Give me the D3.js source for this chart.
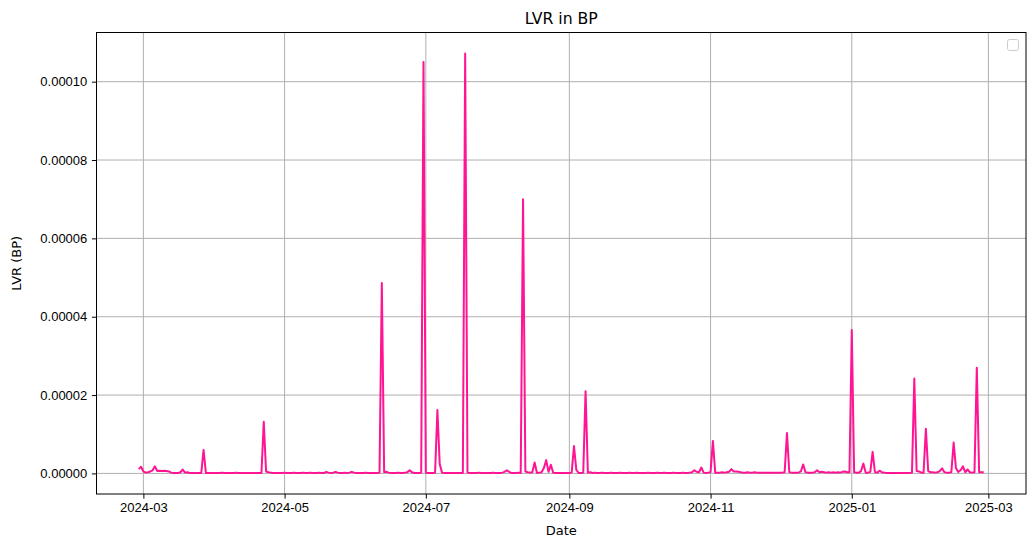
<!DOCTYPE html>
<html lang="en">
<head>
  <meta charset="UTF-8">
  <title>LVR in BP</title>
  <style>
    body { margin: 0; background: #fff; }
    svg { font-family: "DejaVu Sans", sans-serif; }
    .grid line { stroke: #b0b0b0; stroke-width: 1; }
    .axis path { display: none; }
    .axis line { stroke: #000; stroke-width: 1; }
    .axis text { font-size: 13px; fill: #000; }
  </style>
</head>
<body>
  <svg width="1036" height="547"></svg>
  <script src="https://cdn.jsdelivr.net/npm/d3@7"></script>
  <script>
    // daily LVR values, in units of 1e-6, from 2024-02-28 to 2025-02-27
    var startDate = '2024-02-28'
    var lvrMicro = [
      1.1, 1.7, 0.5, 0.2, 0.3, 0.5, 0.8, 1.8, 0.6, 0.7,
      0.6, 0.7, 0.6, 0.5, 0.2, 0.1, 0.1, 0.1, 0.3, 1.0,
      0.2, 0.3, 0.1, 0.1, 0.1, 0.1, 0.1, 0.1, 6.0, 0.1,
      0.1, 0.1, 0.1, 0.1, 0.1, 0.1, 0.2, 0.1, 0.1, 0.1,
      0.1, 0.1, 0.2, 0.1, 0.1, 0.1, 0.1, 0.1, 0.1, 0.1,
      0.1, 0.1, 0.1, 0.1, 13.2, 0.5, 0.3, 0.2, 0.1, 0.1,
      0.1, 0.1, 0.1, 0.2, 0.1, 0.1, 0.1, 0.2, 0.1, 0.1,
      0.1, 0.2, 0.1, 0.1, 0.2, 0.1, 0.1, 0.1, 0.2, 0.1,
      0.1, 0.4, 0.2, 0.1, 0.2, 0.4, 0.2, 0.1, 0.1, 0.2,
      0.1, 0.2, 0.4, 0.2, 0.1, 0.1, 0.1, 0.1, 0.2, 0.1,
      0.1, 0.1, 0.1, 0.1, 0.2, 48.6, 0.3, 0.4, 0.2, 0.1,
      0.1, 0.1, 0.2, 0.1, 0.1, 0.2, 0.3, 0.8, 0.3, 0.1,
      0.1, 0.1, 0.2, 105.0, 0.2, 0.1, 0.1, 0.1, 0.2, 16.2,
      2.4, 0.2, 0.1, 0.1, 0.1, 0.1, 0.1, 0.1, 0.1, 0.1,
      0.1, 107.2, 0.2, 0.1, 0.1, 0.1, 0.1, 0.2, 0.1, 0.1,
      0.1, 0.1, 0.1, 0.2, 0.1, 0.1, 0.1, 0.2, 0.4, 0.8,
      0.4, 0.1, 0.1, 0.1, 0.2, 0.1, 70.0, 0.5, 0.3, 0.2,
      0.3, 2.8, 0.1, 0.2, 0.3, 1.4, 3.4, 0.4, 2.2, 0.2,
      0.1, 0.1, 0.1, 0.1, 0.1, 0.1, 0.1, 0.2, 7.0, 0.9,
      0.1, 0.1, 0.2, 21.0, 0.2, 0.3, 0.1, 0.2, 0.1, 0.1,
      0.2, 0.1, 0.1, 0.1, 0.2, 0.1, 0.1, 0.1, 0.2, 0.1,
      0.1, 0.1, 0.2, 0.1, 0.1, 0.2, 0.1, 0.1, 0.1, 0.1,
      0.2, 0.1, 0.1, 0.1, 0.2, 0.1, 0.1, 0.2, 0.1, 0.1,
      0.1, 0.2, 0.1, 0.1, 0.1, 0.2, 0.1, 0.1, 0.2, 0.3,
      0.8, 0.4, 0.3, 1.5, 0.2, 0.1, 0.2, 0.3, 8.3, 0.2,
      0.2, 0.2, 0.3, 0.2, 0.3, 0.4, 1.1, 0.5, 0.5, 0.4,
      0.3, 0.2, 0.2, 0.3, 0.2, 0.2, 0.3, 0.2, 0.2, 0.2,
      0.2, 0.2, 0.2, 0.2, 0.2, 0.2, 0.2, 0.2, 0.2, 0.3,
      10.3, 0.3, 0.2, 0.2, 0.2, 0.2, 0.5, 2.3, 0.3, 0.2,
      0.2, 0.2, 0.3, 0.8, 0.3, 0.4, 0.3, 0.2, 0.3, 0.2,
      0.3, 0.2, 0.3, 0.2, 0.4, 0.5, 0.3, 0.3, 36.6, 0.3,
      0.2, 0.2, 0.6, 2.5, 0.2, 0.2, 0.4, 5.5, 0.3, 0.2,
      0.7, 0.3, 0.2, 0.1, 0.1, 0.1, 0.1, 0.1, 0.1, 0.1,
      0.1, 0.1, 0.1, 0.1, 0.2, 24.2, 0.6, 0.5, 0.2, 0.2,
      11.4, 0.6, 0.3, 0.3, 0.2, 0.3, 0.6, 1.3, 0.3, 0.2,
      0.2, 0.3, 7.9, 1.3, 0.4, 0.8, 1.8, 0.3, 1.0, 0.3,
      0.2, 0.3, 27.0, 0.3, 0.3, 0.3
    ]
    var xTickLabels = ['2024-03', '2024-05', '2024-07', '2024-09', '2024-11', '2025-01', '2025-03']
    var yTickValues = [0, 0.00002, 0.00004, 0.00006, 0.00008, 0.00010]

    var svg = d3.select('svg')
    var margin = { top: 32.5, right: 10, bottom: 53, left: 96.5 }
    var width = svg.attr('width') - margin.left - margin.right
    var height = svg.attr('height') - margin.top - margin.bottom

    var parseMonth = d3.utcParse('%Y-%m')
    var t0 = d3.utcParse('%Y-%m-%d')(startDate)
    var data = lvrMicro.map(function(v, i) {
      return { date: d3.utcDay.offset(t0, i), value: v * 1e-6 }
    })

    // matplotlib style 5% padding on both axes
    var xExt = d3.extent(data, function(d) { return d.date })
    var xPad = (xExt[1] - xExt[0]) * 0.05
    var yExt = d3.extent(data, function(d) { return d.value })
    var yPad = (yExt[1] - yExt[0]) * 0.05

    var xScale = d3.scaleUtc()
      .domain([new Date(+xExt[0] - xPad), new Date(+xExt[1] + xPad)])
      .range([0, width])
    var yScale = d3.scaleLinear()
      .domain([yExt[0] - yPad, yExt[1] + yPad])
      .range([height, 0])

    var xTicks = xTickLabels.map(parseMonth)

    var g = svg.append('g')
      .attr('transform', 'translate(' + margin.left + ',' + margin.top + ')')

    // grid
    g.append('g').attr('class', 'grid')
      .selectAll('line').data(xTicks).enter().append('line')
      .attr('x1', function(d) { return xScale(d) })
      .attr('x2', function(d) { return xScale(d) })
      .attr('y1', 0).attr('y2', height)
    g.append('g').attr('class', 'grid')
      .selectAll('line').data(yTickValues).enter().append('line')
      .attr('y1', function(d) { return yScale(d) })
      .attr('y2', function(d) { return yScale(d) })
      .attr('x1', 0).attr('x2', width)

    // line
    var line = d3.line()
      .x(function(d) { return xScale(d.date) })
      .y(function(d) { return yScale(d.value) })
    g.append('path')
      .datum(data)
      .attr('fill', 'none')
      .attr('stroke', '#ff1493')
      .attr('stroke-width', 2)
      .attr('stroke-linejoin', 'round')
      .attr('d', line)

    // axes
    g.append('g')
      .attr('class', 'axis')
      .attr('transform', 'translate(0,' + height + ')')
      .call(d3.axisBottom(xScale).tickValues(xTicks).tickSize(4.6).tickPadding(4.6)
        .tickFormat(d3.utcFormat('%Y-%m')))
    g.append('g')
      .attr('class', 'axis')
      .call(d3.axisLeft(yScale).tickValues(yTickValues).tickSize(4.6).tickPadding(4.6)
        .tickFormat(d3.format('.5f')))

    // frame
    g.append('rect')
      .attr('width', width).attr('height', height)
      .attr('fill', 'none').attr('stroke', '#000').attr('stroke-width', 1)

    // empty legend box
    g.append('rect')
      .attr('x', width - 18.5).attr('y', 7)
      .attr('width', 11).attr('height', 11).attr('rx', 2)
      .attr('fill', '#fff').attr('stroke', '#cccccc').attr('stroke-width', 1)

    // labels
    svg.append('text')
      .attr('x', margin.left + width / 2).attr('y', 23.5)
      .attr('text-anchor', 'middle').attr('font-size', '15.7px')
      .text('LVR in BP')
    svg.append('text')
      .attr('x', margin.left + width / 2).attr('y', 535)
      .attr('text-anchor', 'middle').attr('font-size', '13px')
      .text('Date')
    svg.append('text')
      .attr('transform', 'translate(21,' + (margin.top + height / 2) + ') rotate(-90)')
      .attr('text-anchor', 'middle').attr('font-size', '13px')
      .text('LVR (BP)')
  </script>
</body>
</html>
